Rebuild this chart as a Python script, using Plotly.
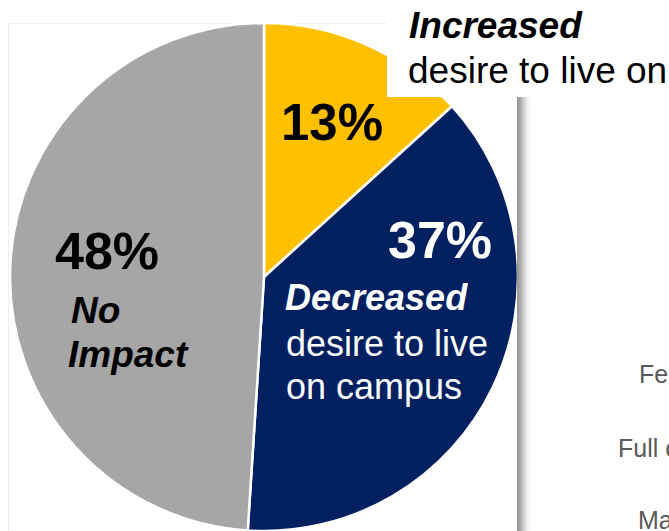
import plotly.graph_objects as go

# Survey split: effect on desire to live on campus
categories = ["Increased", "Decreased", "No Impact"]
values = [13, 37, 48]
colors = ["#FFC000", "#002060", "#A6A6A6"]

W, H = 669, 531


def px(x):
    return x / W


def py(y):
    return 1 - y / H


fig = go.Figure(
    go.Pie(
        labels=categories,
        values=values,
        sort=False,
        direction="clockwise",
        rotation=0,
        textinfo="none",
        hoverinfo="label+percent",
        marker=dict(colors=colors, line=dict(color="white", width=2.5)),
        domain=dict(x=[px(10), px(518)], y=[py(531), py(23)]),
        showlegend=False,
    )
)

FONT = "Liberation Sans, Arial, sans-serif"


def note(text, x, y_base, size, color="black", xanchor="left"):
    # place a single text line by its left edge (or centre) and baseline
    fig.add_annotation(
        x=px(x), y=py(y_base - 0.35 * size), xref="paper", yref="paper",
        text=text, showarrow=False, xanchor=xanchor, yanchor="middle",
        font=dict(family=FONT, size=size, color=color), borderpad=0,
    )


inc, dec, noi = values

# percentage labels
note(f"<b>{inc}%</b>", 332, 140, 51, xanchor="center")
note(f"<b>{dec}%</b>", 440, 258, 52, color="white", xanchor="center")
note(f"<b>{noi}%</b>", 107, 269, 52, xanchor="center")

# category captions
note("<b><i>Decreased</i></b>", 284, 310, 36, color="white")
note("desire to live", 285, 356, 36, color="white")
note("on campus", 285, 399, 36, color="white")
note("<b><i>No</i></b>", 70, 323, 37)
note("<b><i>Impact</i></b>", 67, 367, 37)

shapes = [
    # white panel behind the caption for the top slice
    dict(type="rect", xref="paper", yref="paper", x0=px(387), x1=1.02,
         y0=py(97), y1=1.02, fillcolor="white", line=dict(width=0), layer="above"),
    # faint frame around the pie panel
    dict(type="line", xref="paper", yref="paper", x0=px(8), x1=px(387),
         y0=py(23.5), y1=py(23.5), line=dict(color="#efefef", width=1), layer="below"),
    dict(type="line", xref="paper", yref="paper", x0=px(8.5), x1=px(8.5),
         y0=py(23), y1=0, line=dict(color="#efefef", width=1), layer="below"),
]
# soft vertical divider shadow
for i, c in enumerate(["#9a9a9a", "#a8a8a8", "#bdbdbd", "#d2d2d2", "#e4e4e4", "#f1f1f1", "#f8f8f8"]):
    x0 = 517 + i * 2
    shapes.append(dict(type="rect", xref="paper", yref="paper", x0=px(x0), x1=px(x0 + 2),
                       y0=0, y1=py(97), fillcolor=c, line=dict(width=0), layer="above"))
fig.update_layout(shapes=shapes)

# caption for the top slice
note("<b><i>Increased</i></b>", 408, 38, 37)
note("desire to live on", 407, 83, 37)

# neighbouring panel labels
note("Fe", 638, 383, 25, color="#595959")
note("Full c", 617, 457, 25, color="#595959")
note("Ma", 637, 529, 25, color="#595959")

fig.update_layout(
    width=W, height=H,
    margin=dict(l=0, r=0, t=0, b=0),
    paper_bgcolor="white", plot_bgcolor="white",
)

fig.write_html("out.html")
